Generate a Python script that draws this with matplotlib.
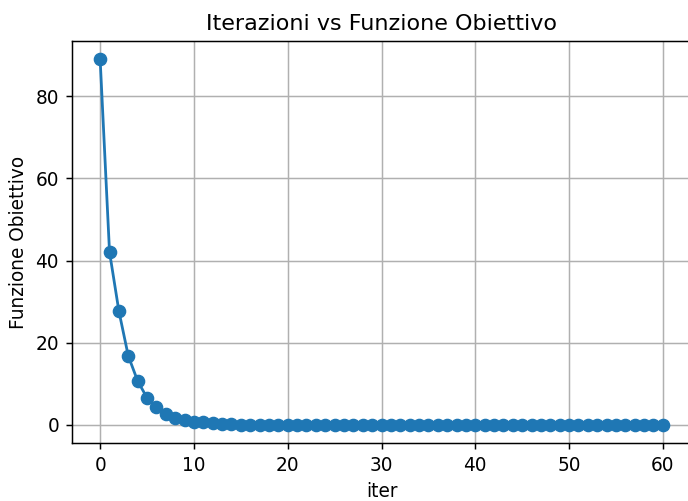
import matplotlib
matplotlib.use("Agg")
import matplotlib.pyplot as plt

iterations = list(range(61))
head_values = [89.0, 42.1, 27.7, 16.8, 10.7, 6.6, 4.4, 2.7, 1.8, 1.1, 0.8, 0.6, 0.4, 0.25, 0.15, 0.1]
tail_values = [0.05] * (61 - len(head_values))
objective = head_values + tail_values

s = 4 / 3
fig = plt.figure(figsize=(6.88, 5.01), dpi=100)
ax = fig.add_axes([72/688, 1 - 443/501, (691-72)/688, (443-41)/501])
ax.plot(iterations, objective, marker='o', markersize=8.8, color='#1f77b4', linewidth=1.5*s)
ax.set_title("Iterazioni vs Funzione Obiettivo", fontsize=12*s, pad=6*s)
ax.set_xlabel("iter", fontsize=10*s, labelpad=4*s)
ax.set_ylabel("Funzione Obiettivo", fontsize=10*s, labelpad=4*s)
ax.grid(True, color='#b0b0b0', linewidth=0.8*s)
ax.tick_params(labelsize=10*s, length=3.5*s, width=0.8*s, pad=3.5*s)
for sp in ax.spines.values():
    sp.set_linewidth(0.8*s)
fig.savefig("out.png", dpi=100)
